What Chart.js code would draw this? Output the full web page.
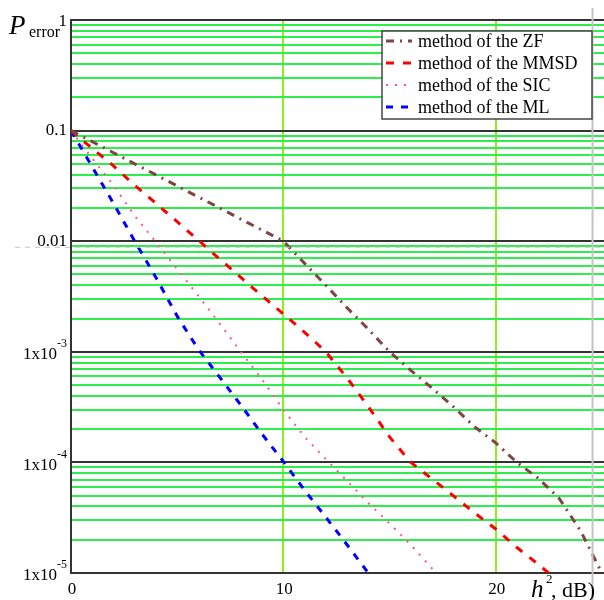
<!DOCTYPE html>
<html>
<head>
<meta charset="utf-8">
<script src="https://cdn.jsdelivr.net/npm/chart.js@4/dist/chart.umd.min.js"></script>
<style>
  html, body { margin: 0; padding: 0; background: #fff; }
  #wrap { width: 604px; height: 600px; position: relative; }
</style>
</head>
<body>
<div id="wrap"><canvas id="chart"></canvas></div>
<script>
// signal/noise in dB
const hdB = [0, 1, 2, 3, 4, 5, 6, 7, 8, 9, 10, 11, 12, 13, 14, 15, 16, 17, 18, 19, 20, 21, 22, 23, 24, 25];

// error probability
const zfErr = [0.1, 0.0794, 0.0631, 0.0501, 0.0398, 0.0316, 0.0251, 0.02, 0.0158, 0.0126, 0.01,
    0.0063, 0.004, 0.0025, 0.0016, 0.001, 6.8e-4, 4.7e-4, 3.2e-4, 2.1e-4, 1.5e-4,
    1.0e-4, 7.2e-5, 4.7e-5, 2.4e-5, 1.0e-5];
const mmsdErr = [0.1, 0.069, 0.048, 0.032, 0.022, 0.015, 0.0102, 0.0069, 0.0047, 0.0032, 0.0022,
    0.0015, 0.001, 5.8e-4, 3.2e-4, 1.7e-4, 1.0e-4, 7.1e-5, 5.0e-5, 3.5e-5, 2.5e-5,
    1.7e-5, 1.2e-5, 8.3e-6];
const sicErr = [0.1, 0.056, 0.032, 0.017, 0.0098, 0.0056, 0.0032, 0.0018, 0.001, 5.6e-4, 3.0e-4,
    1.7e-4, 1.07e-4, 6.8e-5, 4.3e-5, 2.8e-5, 1.8e-5, 1.1e-5, 6.3e-6];
const mlErr = [0.1, 0.047, 0.022, 0.01, 0.0047, 0.0021, 0.00105, 5.9e-4, 3.3e-4, 1.8e-4, 1.02e-4,
    5.6e-5, 3.2e-5, 1.8e-5, 1.0e-5, 5.5e-6];

const seriesNames = ['method of the ZF', 'method of the MMSD', 'method of the SIC', 'method of the ML'];

// axis ticks
const xTicks = [0, 10, 20];
const yDecades = [1, 0.1, 0.01, 1e-3, 1e-4, 1e-5];
const yTickBase = ['1', '0.1', '0.01', '1x10', '1x10', '1x10'];
const yTickSup = ['', '', '', '-3', '-4', '-5'];

// the two grey marker lines of the original
const markerX = 24.56;
const markerY = 0.009;

const SERIF = '"Liberation Serif", "DejaVu Serif", serif';

const toPoints = arr => arr.map((v, i) => ({ x: hdB[i], y: v }));

const styles = [
    { color: '#804444', dash: [8, 6, 2, 6], width: 3 },
    { color: '#ff0000', dash: [8, 9], width: 3 },
    { color: '#ff4fa0', dash: [2, 7], width: 2 },
    { color: '#0000ff', dash: [7, 8], width: 3 }
];

const datasets = [zfErr, mmsdErr, sicErr, mlErr].map((arr, i) => ({
    label: seriesNames[i],
    data: toPoints(arr),
    borderColor: styles[i].color,
    borderDash: styles[i].dash,
    borderWidth: styles[i].width,
    pointRadius: 0,
    tension: 0,
    fill: false
}));

// minor ticks 1..9 in every decade
const buildLogTicks = () => {
    const out = [];
    for (let e = -5; e < 0; e++) {
        for (let m = 1; m <= 9; m++) out.push({ value: m * Math.pow(10, e), major: m === 1 });
    }
    out.push({ value: 1, major: true });
    return out;
};

const isDecade = v => Math.abs(Math.log10(v) - Math.round(Math.log10(v))) < 1e-6;

// texts, legend and markers
const decorPlugin = {
    id: 'decor',
    afterDraw(chart) {
        const ctx = chart.ctx;
        const xs = chart.scales.x;
        const ys = chart.scales.y;
        const area = chart.chartArea;
        ctx.save();

        // grey markers
        ctx.strokeStyle = '#c4c4c4';
        ctx.lineWidth = 2;
        const mx = xs.getPixelForValue(markerX);
        ctx.beginPath();
        ctx.moveTo(mx, 8);
        ctx.lineTo(mx, 600);
        ctx.stroke();
        const my = ys.getPixelForValue(markerY);
        ctx.setLineDash([5, 5]);
        ctx.lineWidth = 1;
        ctx.beginPath();
        ctx.moveTo(15, my + 1);
        ctx.lineTo(area.right, my + 1);
        ctx.stroke();
        ctx.setLineDash([]);

        // y tick labels
        ctx.fillStyle = '#000';
        ctx.textAlign = 'right';
        ctx.textBaseline = 'middle';
        yDecades.forEach((v, i) => {
            const y = ys.getPixelForValue(v);
            let right = 67;
            if (yTickSup[i]) {
                ctx.font = '12px ' + SERIF;
                ctx.fillText(yTickSup[i], right, y - 8);
                right -= ctx.measureText(yTickSup[i]).width;
                ctx.font = '17px ' + SERIF;
                ctx.fillText(yTickBase[i], right, y + 3);
            } else {
                ctx.font = '17px ' + SERIF;
                ctx.fillText(yTickBase[i], right, y + (i === 0 ? 2 : 0));
            }
        });

        // x tick labels
        ctx.textAlign = 'center';
        ctx.font = '17px ' + SERIF;
        xTicks.forEach(v => {
            ctx.fillText(String(v), xs.getPixelForValue(v) + 1, area.bottom + 17);
        });

        // y title
        ctx.textAlign = 'left';
        ctx.textBaseline = 'alphabetic';
        ctx.font = 'italic 27px ' + SERIF;
        ctx.fillText('P', 9, 34);
        ctx.font = '16px ' + SERIF;
        ctx.fillText('error', 29, 37);

        // x title
        ctx.font = 'italic 25px ' + SERIF;
        ctx.fillText('h', 531, 597);
        ctx.font = '13px ' + SERIF;
        ctx.fillText('2', 546, 583);
        ctx.font = '22px ' + SERIF;
        ctx.fillText(', dB)', 551, 597);

        // legend
        const lx = 382, ly = 31, lw = 210, lh = 88;
        ctx.fillStyle = '#fff';
        ctx.fillRect(lx, ly, lw, lh);
        ctx.strokeStyle = '#444';
        ctx.lineWidth = 1.5;
        ctx.strokeRect(lx, ly, lw, lh);
        chart.data.datasets.forEach((ds, i) => {
            const ry = ly + 10 + i * 22;
            ctx.strokeStyle = ds.borderColor;
            ctx.lineWidth = ds.borderWidth;
            ctx.setLineDash(ds.borderDash);
            ctx.beginPath();
            ctx.moveTo(386, ry);
            ctx.lineTo(412, ry);
            ctx.stroke();
            ctx.setLineDash([]);
            ctx.fillStyle = '#000';
            ctx.font = '18px ' + SERIF;
            ctx.textBaseline = 'middle';
            ctx.fillText(ds.label, 418, ry + 1);
        });
        ctx.restore();
    }
};

new Chart(document.getElementById('chart'), {
    type: 'line',
    data: { datasets },
    options: {
        responsive: true,
        maintainAspectRatio: false,
        animation: false,
        layout: { padding: { left: 71, top: 20, right: 0, bottom: 27 } },
        plugins: {
            legend: { display: false },
            tooltip: { enabled: false }
        },
        scales: {
            x: {
                type: 'linear',
                min: 0,
                max: 25.1,
                afterBuildTicks: scale => { scale.ticks = xTicks.map(v => ({ value: v })); },
                border: { color: '#333', width: 2 },
                grid: {
                    drawTicks: false,
                    lineWidth: 2,
                    color: ctx => (ctx.tick && ctx.tick.value === 0) ? '#333' : '#8cf020'
                },
                ticks: { display: false }
            },
            y: {
                type: 'logarithmic',
                min: 1e-5,
                max: 1,
                afterBuildTicks: scale => { scale.ticks = buildLogTicks(); },
                border: { color: '#333', width: 2 },
                grid: {
                    drawTicks: false,
                    lineWidth: 2,
                    color: ctx => (ctx.tick && isDecade(ctx.tick.value)) ? '#333' : '#2cee4c'
                },
                ticks: { display: false }
            }
        }
    },
    plugins: [decorPlugin]
});
</script>
</body>
</html>
